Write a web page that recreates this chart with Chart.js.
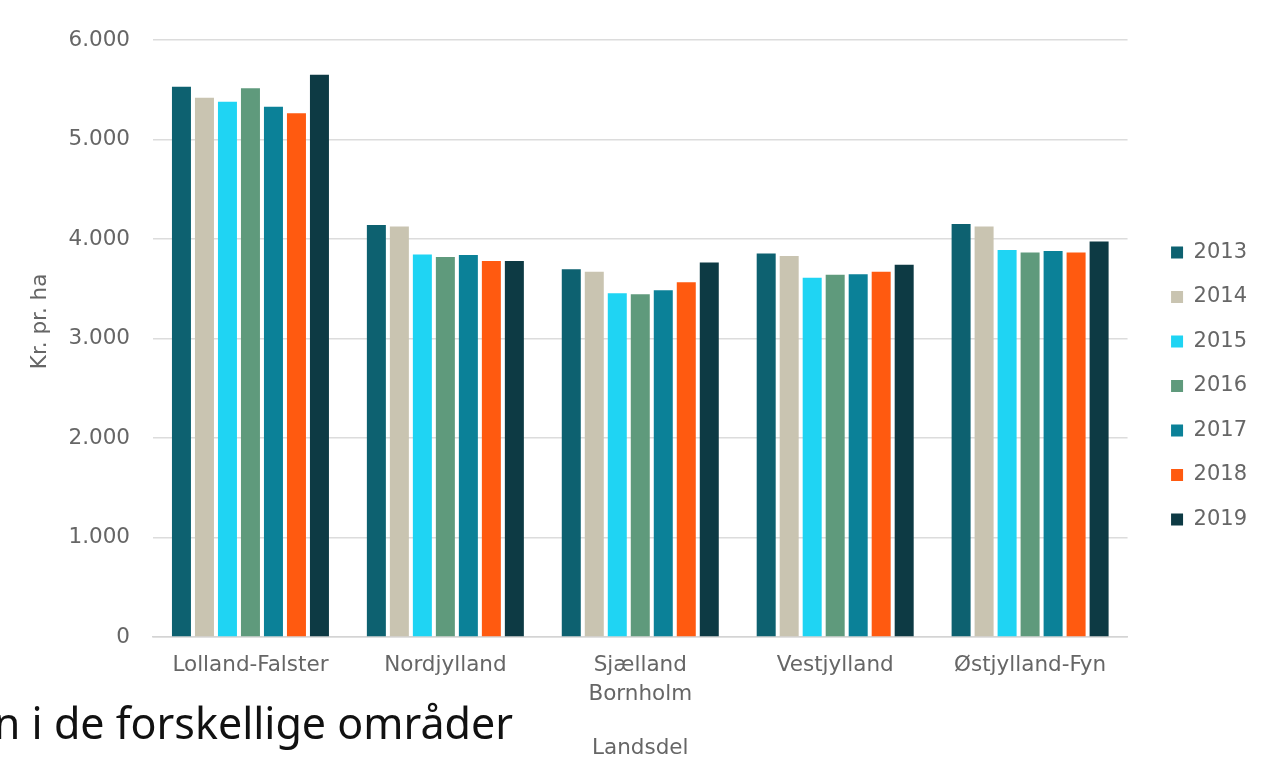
<!DOCTYPE html>
<html>
<head>
<meta charset="utf-8">
<script src="https://cdn.jsdelivr.net/npm/chart.js@4.4.1/dist/chart.umd.min.js"></script>
<style>
  html, body { margin: 0; padding: 0; background: #ffffff; }
  #wrap { position: relative; width: 1265px; height: 764px; overflow: hidden; background: #ffffff; }
  #chart { position: absolute; left: 0; top: 0; }
  #caption {
    position: absolute; right: 752px; top: 695px;
    font-family: "Noto Sans", "Open Sans", sans-serif; font-size: 43px; line-height: 56px;
    color: #111111; white-space: nowrap;
  }
</style>
</head>
<body>
<div id="wrap">
  <canvas id="chart" width="1265" height="764"></canvas>
  <div id="caption">n i de forskellige områder</div>
</div>
<script>
const categories = ['Lolland-Falster', 'Nordjylland', ['Sjælland', 'Bornholm'], 'Vestjylland', 'Østjylland-Fyn'];
const years = ['2013', '2014', '2015', '2016', '2017', '2018', '2019'];
const v2013 = [5530, 4140, 3695, 3855, 4150];
const v2014 = [5420, 4125, 3670, 3830, 4125];
const v2015 = [5380, 3845, 3455, 3610, 3890];
const v2016 = [5515, 3820, 3445, 3640, 3865];
const v2017 = [5330, 3840, 3485, 3645, 3880];
const v2018 = [5265, 3780, 3565, 3670, 3865];
const v2019 = [5650, 3780, 3765, 3740, 3975];
const yTickLabels = ['0', '1.000', '2.000', '3.000', '4.000', '5.000', '6.000'];
const yTitle = 'Kr. pr. ha';
const xTitle = 'Landsdel';

const seriesValues = [v2013, v2014, v2015, v2016, v2017, v2018, v2019];
const colors = ['#0d6170', '#c9c4b1', '#1fd4f3', '#5f9a7c', '#0b8198', '#ff5a10', '#0d3a44'];

const textColor = '#666666';
const fontFamily = '"DejaVu Sans", sans-serif';

const datasets = years.map((y, i) => ({
  label: y,
  data: seriesValues[i],
  backgroundColor: colors[i],
  borderWidth: 0,
  categoryPercentage: 0.826,
  barPercentage: 0.826
}));

new Chart(document.getElementById('chart'), {
  type: 'bar',
  data: { labels: categories, datasets: datasets },
  options: {
    responsive: false,
    animation: false,
    layout: { padding: { left: 10, right: 8, top: 8, bottom: 0 } },
    plugins: {
      tooltip: { enabled: false },
      legend: {
        position: 'right',
        align: 'center',
        labels: {
          boxWidth: 12,
          boxHeight: 12,
          padding: 23.5,
          color: textColor,
          font: { family: fontFamily, size: 21 }
        }
      }
    },
    scales: {
      x: {
        grid: { display: false, drawTicks: false },
        border: { display: true, color: '#d4d4d4', width: 1.5 },
        ticks: {
          color: textColor,
          padding: 14,
          maxRotation: 0,
          autoSkip: false,
          font: { family: fontFamily, size: 21.5, lineHeight: 1.35 }
        },
        title: {
          display: true,
          text: xTitle,
          color: textColor,
          font: { family: fontFamily, size: 21.5 },
          padding: { top: 28, bottom: 3 }
        },
        afterFit: (scale) => { scale.height = 127; }
      },
      y: {
        min: 0,
        max: 6000,
        grid: { color: '#dcdcdc', lineWidth: 1.5, drawTicks: false },
        border: { display: false },
        ticks: {
          stepSize: 1000,
          padding: 23,
          color: textColor,
          font: { family: fontFamily, size: 21.5 },
          callback: (value) => yTickLabels[Math.round(value / 1000)]
        },
        title: {
          display: true,
          text: '     ' + yTitle,
          color: textColor,
          font: { family: fontFamily, size: 21.5 },
          padding: { top: 18, bottom: 16 }
        },
        afterFit: (scale) => { scale.width = 143; }
      },
      gapRight: {
        type: 'linear',
        position: 'right',
        display: true,
        grid: { display: false },
        border: { display: false },
        ticks: { display: false },
        afterFit: (scale) => { scale.width = 20; }
      },
      gapTop: {
        type: 'linear',
        position: 'top',
        axis: 'x',
        display: true,
        grid: { display: false },
        border: { display: false },
        ticks: { display: false },
        afterFit: (scale) => { scale.height = 32; }
      }
    }
  }
});
</script>
</body>
</html>
